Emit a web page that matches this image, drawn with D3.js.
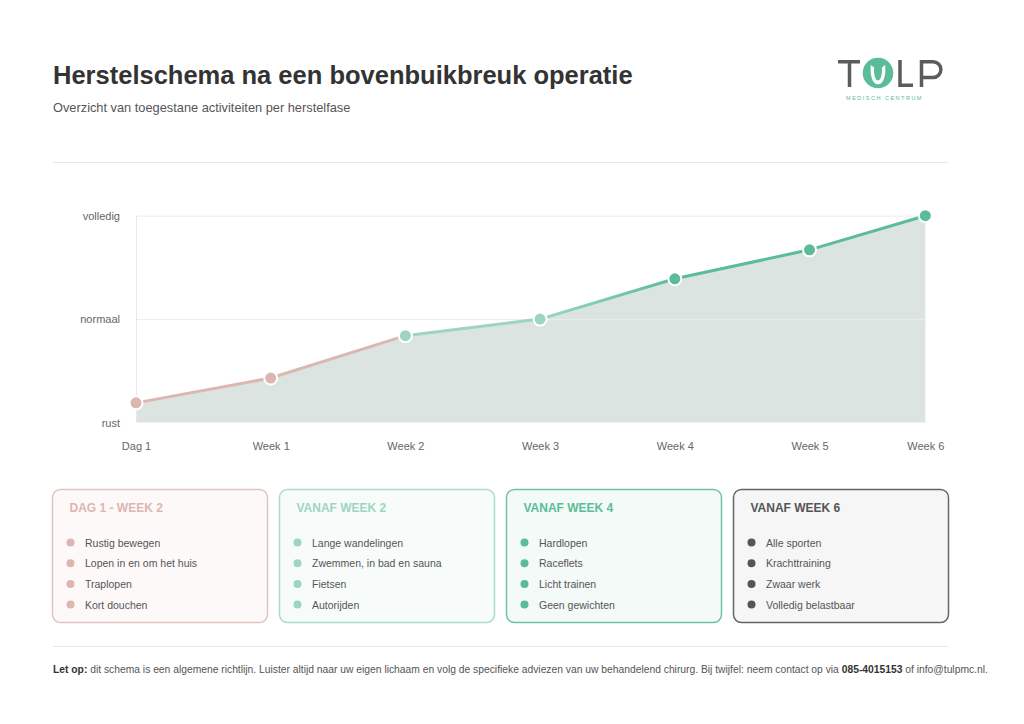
<!DOCTYPE html>
<html><head><meta charset="utf-8">
<script src="https://cdn.jsdelivr.net/npm/d3@7"></script>
<style>
html,body{margin:0;padding:0;background:#fff;}
svg{display:block;font-family:"Liberation Sans",Arial,Helvetica,sans-serif;}
</style></head>
<body><svg id="c" width="1024" height="724"></svg>
<script>
// ---- data ----
const categories = ["Dag 1","Week 1","Week 2","Week 3","Week 4","Week 5","Week 6"];
const xPositions = [0, 1, 2, 3, 4, 5, 5.86];
const levels = [0.19, 0.43, 0.84, 1.0, 1.39, 1.67, 2.0];
const pointPhase = [0, 0, 1, 1, 2, 2, 2];
const yTickValues = [0, 1, 2];
const yTickLabels = ["rust", "normaal", "volledig"];
const phaseColors = ["#dcb6b0", "#9dd5be", "#5bbd98", "#555555"];
const cardTitles = ["DAG 1 - WEEK 2", "VANAF WEEK 2", "VANAF WEEK 4", "VANAF WEEK 6"];
const cardItems = [
  ["Rustig bewegen", "Lopen in en om het huis", "Traplopen", "Kort douchen"],
  ["Lange wandelingen", "Zwemmen, in bad en sauna", "Fietsen", "Autorijden"],
  ["Hardlopen", "Raceflets", "Licht trainen", "Geen gewichten"],
  ["Alle sporten", "Krachttraining", "Zwaar werk", "Volledig belastbaar"]
];
const cardBorders = ["#e3c5c0", "#a9dcc8", "#6cc4a2", "#666666"];
const cardFills = ["#fdf9f9", "#f7fcfa", "#f3faf7", "#f6f6f6"];

const svg = d3.select("#c");

// ---- header ----
svg.append("text").attr("x", 53).attr("y", 84).attr("font-size", 25.5).attr("font-weight", "bold")
  .attr("fill", "#333").text("Herstelschema na een bovenbuikbreuk operatie");
svg.append("text").attr("x", 53).attr("y", 112).attr("font-size", 12.8).attr("fill", "#555")
  .text("Overzicht van toegestane activiteiten per herstelfase");

// logo (letters drawn as strokes)
const logo = svg.append("g").attr("fill", "none").attr("stroke", "#5a5b5d").attr("stroke-width", 3.5);
logo.append("path").attr("d", "M838,61.7 H860 M849.5,61.7 V87");           // T
logo.append("path").attr("d", "M900,60 V85.3 H913");                        // L
logo.append("path").attr("d", "M921.5,87 V61.7 H933 A7.9,7.9 0 0 1 933,77.5 H921.5"); // P
svg.append("circle").attr("cx", 878).attr("cy", 73).attr("r", 15.3).attr("fill", "#5bbd98");
svg.append("path").attr("d", "M870.8,65 C869.8,76 872.8,84.5 878,84.5 C883.2,84.5 886.2,76 885.2,65 L881.9,67.5 C882.4,75 880.6,80.5 878,80.5 C875.4,80.5 873.6,75 874.1,67.5 Z")
  .attr("fill", "#fff");
svg.append("text").attr("x", 884.5).attr("y", 100).attr("text-anchor", "middle").attr("font-size", 5.5)
  .attr("letter-spacing", 1.5).attr("fill", "#5bbd98").text("MEDISCH CENTRUM");

svg.append("line").attr("x1", 53).attr("x2", 948).attr("y1", 162.5).attr("y2", 162.5)
  .attr("stroke", "#e6e6e6").attr("stroke-width", 1);

// ---- chart ----
const x = d3.scaleLinear().domain([0, 5]).range([136, 809.5]);
const y = d3.scaleLinear().domain([0, 2]).range([422.5, 215.7]);
const px = i => x(xPositions[i]);

// area
const area = d3.area().x((d, i) => px(i)).y0(y(0)).y1(d => y(d));
svg.append("path").datum(levels).attr("d", area).attr("fill", "#dce4e1");

// grid
svg.append("g").selectAll("line").data(yTickValues.slice(1)).join("line")
  .attr("x1", px(0)).attr("x2", px(categories.length - 1))
  .attr("y1", d => y(d) + 0.5).attr("y2", d => y(d) + 0.5)
  .attr("stroke", "#ececec").attr("stroke-width", 1);
svg.append("line").attr("x1", 136.5).attr("x2", 136.5).attr("y1", y(2)).attr("y2", y(0))
  .attr("stroke", "#e8e8e8");

// y labels
const yAxis = d3.axisLeft(y).tickValues(yTickValues).tickSize(0).tickPadding(16)
  .tickFormat((d, i) => yTickLabels[i]);
const gy = svg.append("g").attr("transform", "translate(136,0)").call(yAxis);
gy.select(".domain").remove();
gy.selectAll("text").attr("font-size", 11).attr("fill", "#666").attr("font-family", "'Liberation Sans',Arial,sans-serif");

// x labels
const xAxis = d3.axisBottom(x).tickValues(xPositions).tickSize(0).tickPadding(20)
  .tickFormat((d, i) => categories[i]);
const gx = svg.append("g").attr("transform", "translate(0," + y(0) + ")").call(xAxis);
gx.select(".domain").remove();
gx.selectAll("text").attr("font-size", 11).attr("fill", "#666").attr("font-family", "'Liberation Sans',Arial,sans-serif");

// line gradient
const defs = svg.append("defs");
const x0 = px(0), x1 = px(categories.length - 1);
const off = i => (px(i) - x0) / (x1 - x0);
const grad = defs.append("linearGradient").attr("id", "lg").attr("gradientUnits", "userSpaceOnUse")
  .attr("x1", x0).attr("x2", x1).attr("y1", 0).attr("y2", 0);
const stops = [
  [0, phaseColors[0]], [off(2), phaseColors[0]], [off(2), phaseColors[1]],
  [off(3), phaseColors[1]], [off(4), phaseColors[2]], [1, phaseColors[2]]
];
grad.selectAll("stop").data(stops).join("stop").attr("offset", d => d[0]).attr("stop-color", d => d[1]);

const line = d3.line().x((d, i) => px(i)).y(d => y(d));
svg.append("path").datum(levels).attr("d", line).attr("fill", "none")
  .attr("stroke", "url(#lg)").attr("stroke-width", 3);

svg.append("g").selectAll("circle").data(levels).join("circle")
  .attr("cx", (d, i) => px(i)).attr("cy", d => y(d)).attr("r", 6.5)
  .attr("fill", (d, i) => phaseColors[pointPhase[i]]).attr("stroke", "#fff").attr("stroke-width", 2);

// ---- cards ----
const cardX = [52.5, 279.5, 506.5, 733.5];
const cardW = 215, cardY = 489.5, cardH = 133;
cardTitles.forEach((t, k) => {
  const g = svg.append("g").attr("transform", `translate(${cardX[k]},${cardY})`);
  g.append("rect").attr("width", cardW).attr("height", cardH).attr("rx", 8)
    .attr("fill", cardFills[k]).attr("stroke", cardBorders[k]).attr("stroke-width", 1.5);
  g.append("text").attr("x", 17).attr("y", 22).attr("font-size", 12).attr("font-weight", "bold")
    .attr("fill", phaseColors[k]).text(t);
  g.selectAll("circle.b").data(cardItems[k]).join("circle").attr("class", "b")
    .attr("cx", 18).attr("cy", (d, i) => 53 + i * 20.7).attr("r", 4).attr("fill", phaseColors[k]);
  g.selectAll("text.i").data(cardItems[k]).join("text").attr("class", "i")
    .attr("x", 32.5).attr("y", (d, i) => 57 + i * 20.7).attr("font-size", 10.5).attr("fill", "#555").text(d => d);
});

// ---- footer ----
svg.append("line").attr("x1", 53).attr("x2", 948).attr("y1", 646.5).attr("y2", 646.5)
  .attr("stroke", "#e6e6e6");
const ft = svg.append("text").attr("x", 53).attr("y", 673).attr("font-size", 10.3).attr("fill", "#555");
ft.append("tspan").attr("font-weight", "bold").attr("fill", "#333").text("Let op:");
ft.append("tspan").text(" dit schema is een algemene richtlijn. Luister altijd naar uw eigen lichaam en volg de specifieke adviezen van uw behandelend chirurg. Bij twijfel: neem contact op via ");
ft.append("tspan").attr("font-weight", "bold").attr("fill", "#333").text("085-4015153");
ft.append("tspan").text(" of info@tulpmc.nl.");
</script></body></html>
